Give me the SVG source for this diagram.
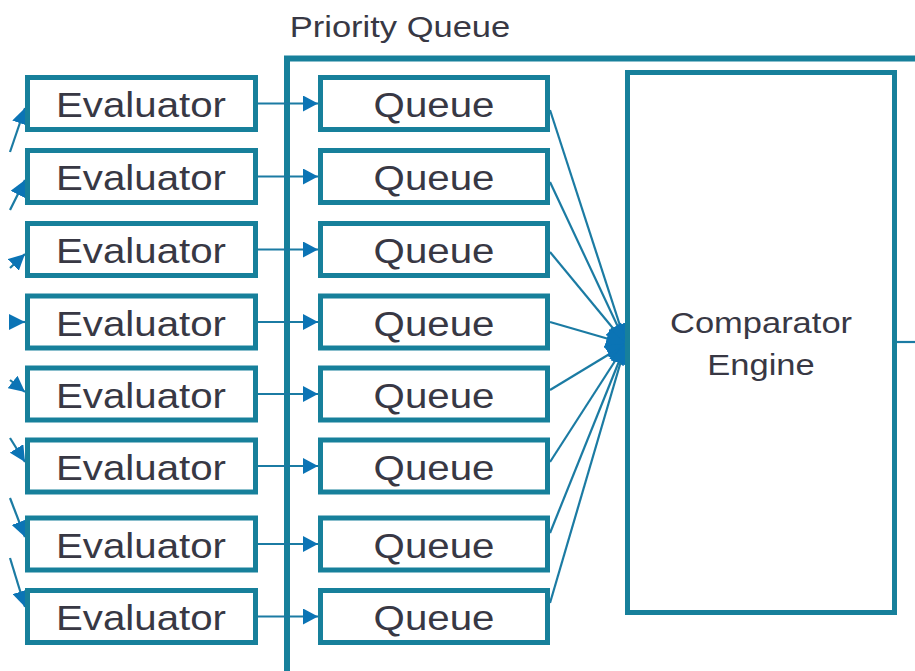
<svg xmlns="http://www.w3.org/2000/svg" width="915" height="671" viewBox="0 0 915 671">
  <defs>
    <style>
      .box { fill: #ffffff; stroke: #17809b; stroke-width: 5; }
      .frame { fill: none; stroke: #17809b; stroke-width: 6; }
      .lbl { font-family: "Liberation Sans", Arial, sans-serif; fill: #383844; text-anchor: middle; }
      .big { font-size: 35px; }
      .mid { font-size: 30px; }
      .wire { stroke: #1b7ba3; stroke-width: 2.2; fill: none; }
    </style>
    <marker id="head" markerUnits="userSpaceOnUse" viewBox="0 0 15 16" refX="15" refY="8" markerWidth="15" markerHeight="16" orient="auto">
      <path d="M0,0 L15,8 L0,16 z" fill="#0b74b5"/>
    </marker>
    <marker id="headS" markerUnits="userSpaceOnUse" viewBox="0 0 16 16" refX="16" refY="8" markerWidth="16" markerHeight="16" orient="auto">
      <path d="M0,0 L16,8 L0,16 z" fill="#0b74b5"/>
    </marker>
    <marker id="headF" markerUnits="userSpaceOnUse" viewBox="0 0 21 20" refX="20" refY="10" markerWidth="21" markerHeight="20" orient="auto">
      <path d="M0,0 L21,10 L0,20 z" fill="#0b74b5"/>
    </marker>
  </defs>
  <rect x="0" y="0" width="915" height="671" fill="#ffffff"/>

  <!-- Priority Queue container -->
  <g id="priority-queue">
    <path class="frame" d="M287,680 L287,58.5 L925,58.5"/>
    <text class="lbl mid" transform="translate(400,37) scale(1.15,1)">Priority Queue</text>
  </g>

  <!-- Connectors -->
  <g id="connectors">
    <!-- incoming to evaluators -->
    <line class="wire" x1="10" y1="152" x2="25" y2="108" marker-end="url(#headS)"/>
    <line class="wire" x1="10" y1="210" x2="25" y2="180" marker-end="url(#headS)"/>
    <line class="wire" x1="10" y1="268" x2="25" y2="254" marker-end="url(#headS)"/>
    <line class="wire" x1="10" y1="322" x2="25" y2="322" marker-end="url(#headS)"/>
    <line class="wire" x1="10" y1="380" x2="25" y2="392" marker-end="url(#headS)"/>
    <line class="wire" x1="10" y1="438" x2="25" y2="462" marker-end="url(#headS)"/>
    <line class="wire" x1="10" y1="498" x2="25" y2="537" marker-end="url(#headS)"/>
    <line class="wire" x1="10" y1="558" x2="25" y2="607" marker-end="url(#headS)"/>
    <!-- evaluator to queue -->
    <line class="wire" x1="257" y1="103.5" x2="318" y2="103.5" marker-end="url(#head)"/>
    <line class="wire" x1="257" y1="176.5" x2="318" y2="176.5" marker-end="url(#head)"/>
    <line class="wire" x1="257" y1="249.5" x2="318" y2="249.5" marker-end="url(#head)"/>
    <line class="wire" x1="257" y1="322" x2="318" y2="322" marker-end="url(#head)"/>
    <line class="wire" x1="257" y1="394" x2="318" y2="394" marker-end="url(#head)"/>
    <line class="wire" x1="257" y1="466" x2="318" y2="466" marker-end="url(#head)"/>
    <line class="wire" x1="257" y1="544" x2="318" y2="544" marker-end="url(#head)"/>
    <line class="wire" x1="257" y1="616.5" x2="318" y2="616.5" marker-end="url(#head)"/>
    <!-- queues into comparator -->
    <line class="wire" x1="550" y1="110" x2="626" y2="344" marker-end="url(#headF)"/>
    <line class="wire" x1="550" y1="182" x2="626" y2="344" marker-end="url(#headF)"/>
    <line class="wire" x1="550" y1="252" x2="626" y2="344" marker-end="url(#headF)"/>
    <line class="wire" x1="550" y1="322" x2="626" y2="344" marker-end="url(#headF)"/>
    <line class="wire" x1="550" y1="390" x2="626" y2="344" marker-end="url(#headF)"/>
    <line class="wire" x1="550" y1="462" x2="626" y2="344" marker-end="url(#headF)"/>
    <line class="wire" x1="550" y1="533" x2="626" y2="344" marker-end="url(#headF)"/>
    <line class="wire" x1="550" y1="603" x2="626" y2="344" marker-end="url(#headF)"/>
    <!-- comparator output -->
    <line class="wire" x1="897" y1="342" x2="915" y2="342"/>
  </g>

  <!-- Evaluators -->
  <g id="evaluator-1"><rect class="box" x="27.5" y="77.5" width="228" height="52"/><text class="lbl big" transform="translate(141,117) scale(1.15,1)">Evaluator</text></g>
  <g id="evaluator-2"><rect class="box" x="27.5" y="150.5" width="228" height="52"/><text class="lbl big" transform="translate(141,190) scale(1.15,1)">Evaluator</text></g>
  <g id="evaluator-3"><rect class="box" x="27.5" y="223.5" width="228" height="52"/><text class="lbl big" transform="translate(141,263) scale(1.15,1)">Evaluator</text></g>
  <g id="evaluator-4"><rect class="box" x="27.5" y="296" width="228" height="52"/><text class="lbl big" transform="translate(141,335.5) scale(1.15,1)">Evaluator</text></g>
  <g id="evaluator-5"><rect class="box" x="27.5" y="368" width="228" height="52"/><text class="lbl big" transform="translate(141,407.5) scale(1.15,1)">Evaluator</text></g>
  <g id="evaluator-6"><rect class="box" x="27.5" y="440" width="228" height="52"/><text class="lbl big" transform="translate(141,479.5) scale(1.15,1)">Evaluator</text></g>
  <g id="evaluator-7"><rect class="box" x="27.5" y="518" width="228" height="52"/><text class="lbl big" transform="translate(141,557.5) scale(1.15,1)">Evaluator</text></g>
  <g id="evaluator-8"><rect class="box" x="27.5" y="590.5" width="228" height="52"/><text class="lbl big" transform="translate(141,630) scale(1.15,1)">Evaluator</text></g>

  <!-- Queues -->
  <g id="queue-1"><rect class="box" x="320.5" y="77.5" width="227" height="52"/><text class="lbl big" transform="translate(434,117) scale(1.15,1)">Queue</text></g>
  <g id="queue-2"><rect class="box" x="320.5" y="150.5" width="227" height="52"/><text class="lbl big" transform="translate(434,190) scale(1.15,1)">Queue</text></g>
  <g id="queue-3"><rect class="box" x="320.5" y="223.5" width="227" height="52"/><text class="lbl big" transform="translate(434,263) scale(1.15,1)">Queue</text></g>
  <g id="queue-4"><rect class="box" x="320.5" y="296" width="227" height="52"/><text class="lbl big" transform="translate(434,335.5) scale(1.15,1)">Queue</text></g>
  <g id="queue-5"><rect class="box" x="320.5" y="368" width="227" height="52"/><text class="lbl big" transform="translate(434,407.5) scale(1.15,1)">Queue</text></g>
  <g id="queue-6"><rect class="box" x="320.5" y="440" width="227" height="52"/><text class="lbl big" transform="translate(434,479.5) scale(1.15,1)">Queue</text></g>
  <g id="queue-7"><rect class="box" x="320.5" y="518" width="227" height="52"/><text class="lbl big" transform="translate(434,557.5) scale(1.15,1)">Queue</text></g>
  <g id="queue-8"><rect class="box" x="320.5" y="590.5" width="227" height="52"/><text class="lbl big" transform="translate(434,630) scale(1.15,1)">Queue</text></g>

  <!-- Comparator Engine -->
  <g id="comparator-engine">
    <rect class="box" x="627.5" y="72.5" width="267" height="540" style="fill:none"/>
    <text class="lbl mid" transform="translate(761,333) scale(1.15,1)">Comparator</text>
    <text class="lbl mid" transform="translate(761,375) scale(1.15,1)">Engine</text>
  </g>
</svg>
